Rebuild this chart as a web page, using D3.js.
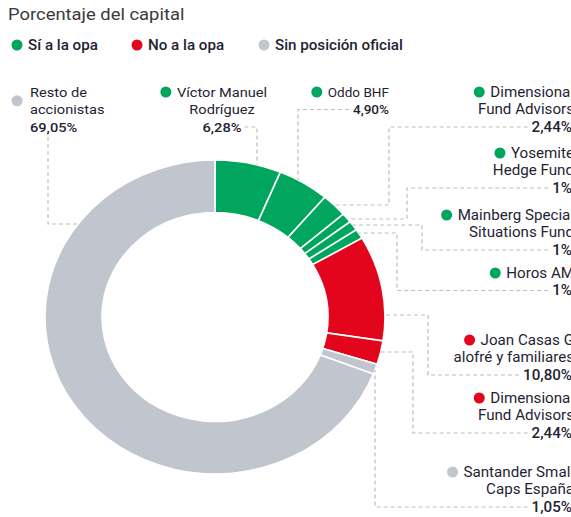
<!DOCTYPE html>
<html>
<head>
<meta charset="utf-8">
<script src="https://cdn.jsdelivr.net/npm/d3@7"></script>
<style>
  body { margin: 0; background: #fff; }
  svg { display: block; font-family: Roboto, "Noto Sans", sans-serif; }
</style>
</head>
<body>
<div id="chart"></div>
<script>
// data
const legendKeys = ['si', 'no', 'sin'];
const legendLabels = ['Sí a la opa', 'No a la opa', 'Sin posición oficial'];
const holders = ['Víctor Manuel Rodríguez', 'Oddo BHF', 'Dimensional Fund Advisors', 'Yosemite Hedge Fund',
    'Mainberg Special Situations Fund', 'Horos AM', 'Joan Casas Galofré y familiares',
    'Dimensional Fund Advisors', 'Santander Small Caps España', 'Resto de accionistas'];
const holderLines = [['Víctor Manuel', 'Rodríguez'], ['Oddo BHF'], ['Dimensional', 'Fund Advisors'],
    ['Yosemite', 'Hedge Fund'], ['Mainberg Special', 'Situations Fund'], ['Horos AM'],
    ['Joan Casas G', 'alofré y familiares'], ['Dimensional', 'Fund Advisors'],
    ['Santander Small', 'Caps España'], ['Resto de', 'accionistas']];
const shares = [6.28, 4.90, 2.44, 1, 1, 1, 10.80, 2.44, 1.05, 69.05];
const shareLabels = ['6,28%', '4,90%', '2,44%', '1%', '1%', '1%', '10,80%', '2,44%', '1,05%', '69,05%'];
const stance = ['si', 'si', 'si', 'si', 'si', 'si', 'no', 'no', 'sin', 'sin'];

// layout (the reference is stretched horizontally, so text gets a small x-scale too)
const width = 571, height = 517;
const sx = 1.083;
const cx = 215, cy = 317, outerR = 170, innerR = 113, ry = 157;
const lineH = 17.5;
const textColor = '#1f2433';
const color = d3.scaleOrdinal().domain(legendKeys).range(['#00a65d', '#e3051b', '#c1c6ce']);

// label placement: x, first baseline, anchor, font size, leader routing
const labelLayout = [
    {x: 222, y: 96.5, anchor: 'middle', size: 13.5, leader: {kind: 'v', fromSide: 'right', x: 257, side: 'top'}},
    {x: 389, y: 96.5, anchor: 'end', size: 12.5, leader: {kind: 'v', fromSide: 'left', x: 298, side: 'top'}},
    {x: 574, y: 96.5, anchor: 'end', size: 14, leader: {kind: 'h', elbow: 389, y: 205}},
    {x: 574, y: 157.5, anchor: 'end', size: 14, leader: {kind: 'h', elbow: 407, y: 219}},
    {x: 574, y: 219.5, anchor: 'end', size: 14, leader: {kind: 'h', elbow: 422, y: 225}},
    {x: 574, y: 277.5, anchor: 'end', size: 14, leader: {kind: 'h', elbow: 397, y: 233}},
    {x: 574, y: 344.5, anchor: 'end', size: 14, leader: {kind: 'h', elbow: 428, y: 315}},
    {x: 574, y: 402.5, anchor: 'end', size: 14, leader: {kind: 'h', elbow: 413, y: 352}},
    {x: 574, y: 476.5, anchor: 'end', size: 14, leader: {kind: 'v', fromSide: 'left', x: 375, side: 'bottom'}},
    {x: 30, y: 96.5, anchor: 'start', size: 13.5, dotMid: true, leader: {kind: 'd', x: 48, y: 224}}
];

const svg = d3.select('#chart').append('svg')
    .attr('width', width)
    .attr('height', height);

// adds a horizontally stretched text, returns its left edge and width in page px
function addText(parent, x, y, str, size, weight, anchor, fill) {
    const t = parent.append('text')
        .attr('transform', `translate(${x}, ${y}) scale(${sx}, 1)`)
        .attr('text-anchor', anchor || 'start')
        .attr('font-size', size)
        .attr('font-weight', weight || 400)
        .attr('fill', fill || textColor)
        .text(str);
    const w = t.node().getComputedTextLength() * sx;
    const left = anchor === 'end' ? x - w : anchor === 'middle' ? x - w / 2 : x;
    return {left: left, width: w};
}

// title
addText(svg, 8, 20, 'Porcentaje del capital', 17, 400, 'start', '#3a3a3a');

// legend
const legendX = [17, 137, 264];
legendKeys.forEach(function (k, i) {
    svg.append('circle')
        .attr('cx', legendX[i]).attr('cy', 45)
        .attr('r', 5.5)
        .attr('fill', color(k));
    addText(svg, legendX[i] + 11, 50, legendLabels[i], 14, 500);
});

// donut
const pie = d3.pie().sort(null).value(function (d) { return d; });
const arcs = pie(shares);
const arc = d3.arc().innerRadius(innerR).outerRadius(outerR);

svg.append('g')
    .attr('transform', `translate(${cx}, ${cy}) scale(1, ${ry / outerR})`)
    .selectAll('path')
    .data(arcs)
    .enter()
    .append('path')
    .attr('d', arc)
    .attr('fill', function (d, i) { return color(stance[i]); })
    .attr('stroke', '#fff')
    .attr('stroke-width', 1.6)
    .attr('vector-effect', 'non-scaling-stroke');

// points on the outer edge of the (squashed) ring
function edgeX(y, side) {
    const t = (y - cy) / ry;
    const dx = outerR * Math.sqrt(Math.max(0, 1 - t * t));
    return side === 'left' ? cx - dx : cx + dx;
}
function edgeY(x, side) {
    const t = (x - cx) / outerR;
    const dy = ry * Math.sqrt(Math.max(0, 1 - t * t));
    return side === 'bottom' ? cy + dy : cy - dy;
}

const leaders = svg.append('g');
const labels = svg.append('g');

holderLines.forEach(function (lines, i) {
    const lay = labelLayout[i];
    const g = labels.append('g');
    const allLines = lines.concat([shareLabels[i]]);
    const boxes = allLines.map(function (str, j) {
        const isPct = j === allLines.length - 1;
        const x = (lay.anchor === 'end' && isPct && lay.x > 500) ? lay.x - 2 : lay.x;
        return addText(g, x, lay.y + j * lineH, str, lay.size, isPct ? 500 : 400, lay.anchor);
    });

    const first = boxes[0];
    const last = boxes[boxes.length - 1];

    g.append('circle')
        .attr('cx', first.left - (lay.dotMid ? 13 : 11))
        .attr('cy', lay.dotMid ? lay.y + lineH / 2 - 4.5 : lay.y - 4.5)
        .attr('r', 5.5)
        .attr('fill', color(stance[i]));

    // leader line
    const ly = lay.y + (allLines.length - 1) * lineH - 4.5;
    const L = lay.leader;
    let pts;
    if (L.kind === 'h') {
        const s = last.left - 4;
        pts = [[s, ly], [L.elbow, ly], [L.elbow, L.y], [edgeX(L.y, 'right'), L.y]];
    } else if (L.kind === 'v') {
        const s = L.fromSide === 'right' ? last.left + last.width + 3 : last.left - 4;
        pts = [[s, ly], [L.x, ly], [L.x, edgeY(L.x, L.side)]];
    } else {
        pts = [[L.x, ly + 10], [L.x, L.y], [edgeX(L.y, 'left'), L.y]];
    }

    leaders.append('path')
        .attr('d', d3.line()(pts))
        .attr('fill', 'none')
        .attr('stroke', '#bdbdbd')
        .attr('stroke-width', 1.2)
        .attr('stroke-dasharray', '4,3');
});
</script>
</body>
</html>
